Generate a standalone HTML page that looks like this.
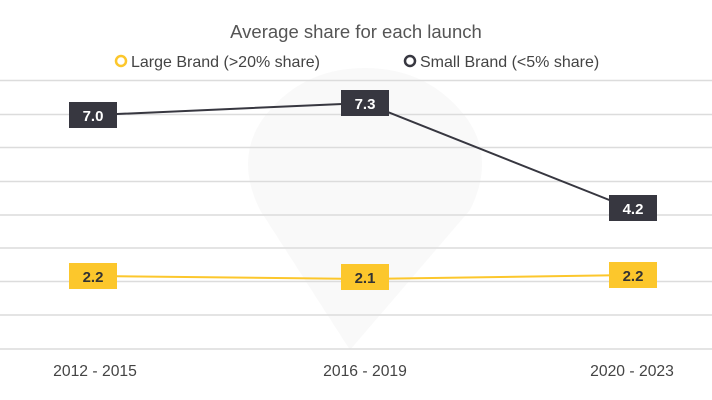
<!DOCTYPE html>
<html><head><style>
body{margin:0;background:#fff;}
svg{display:block;font-family:"Liberation Sans",sans-serif;}
</style></head><body>
<svg width="712" height="400" viewBox="0 0 712 400">
<rect width="712" height="400" fill="#fff"/>
<path d="M350 350 L260 210 Q235 160 262 120 Q300 68 365 68 Q430 68 468 120 Q495 160 470 210 Z" fill="#f9f9f9"/>
<text x="356" y="38" text-anchor="middle" font-size="18.5" fill="#555">Average share for each launch</text>
<circle cx="121" cy="61" r="5" fill="none" stroke="#fcc72c" stroke-width="2.5"/>
<text x="131" y="67" font-size="16" fill="#444">Large Brand (&gt;20% share)</text>
<circle cx="410" cy="61" r="5" fill="none" stroke="#373740" stroke-width="2.5"/>
<text x="420" y="67" font-size="16" fill="#444">Small Brand (&lt;5% share)</text>
<g stroke="#dcdcdc" stroke-width="1.5">
<line x1="0" y1="80.5" x2="712" y2="80.5"/>
<line x1="0" y1="114.5" x2="712" y2="114.5"/>
<line x1="0" y1="147.5" x2="712" y2="147.5"/>
<line x1="0" y1="181.5" x2="712" y2="181.5"/>
<line x1="0" y1="215" x2="712" y2="215"/>
<line x1="0" y1="248" x2="712" y2="248"/>
<line x1="0" y1="281.5" x2="712" y2="281.5"/>
<line x1="0" y1="315" x2="712" y2="315"/>
<line x1="0" y1="349" x2="712" y2="349"/>
</g>
<polyline points="95,276 365,279 632,275" fill="none" stroke="#fcc72c" stroke-width="2"/>
<polyline points="95,115 365,103 632,209" fill="none" stroke="#373740" stroke-width="2"/>
<g font-size="15" font-weight="bold" text-anchor="middle">
<rect x="69" y="102" width="48" height="26" fill="#373740"/><text x="93" y="121" fill="#fff">7.0</text>
<rect x="341" y="90" width="48" height="26" fill="#373740"/><text x="365" y="109" fill="#fff">7.3</text>
<rect x="609" y="195" width="48" height="26" fill="#373740"/><text x="633" y="214" fill="#fff">4.2</text>
<rect x="69" y="263" width="48" height="26" fill="#fcc72c"/><text x="93" y="282" fill="#333">2.2</text>
<rect x="341" y="264" width="48" height="26" fill="#fcc72c"/><text x="365" y="283" fill="#333">2.1</text>
<rect x="609" y="262" width="48" height="26" fill="#fcc72c"/><text x="633" y="281" fill="#333">2.2</text>
</g>
<g font-size="15.7" fill="#444" text-anchor="middle">
<text x="95" y="376">2012 - 2015</text>
<text x="365" y="376">2016 - 2019</text>
<text x="632" y="376">2020 - 2023</text>
</g>
</svg>
</body></html>
